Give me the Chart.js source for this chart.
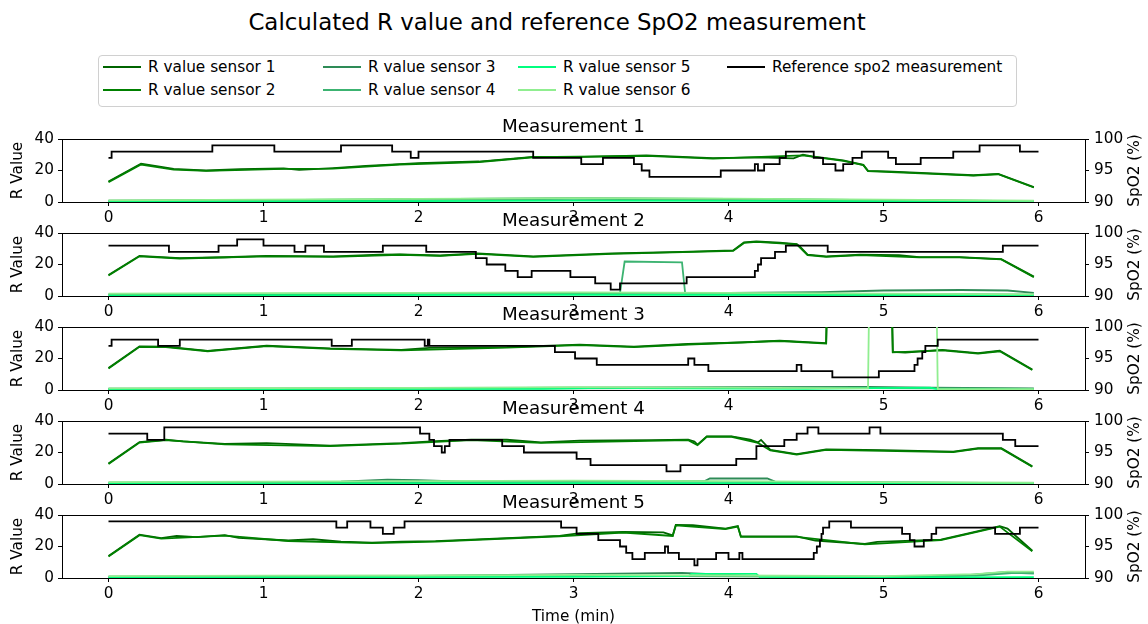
<!DOCTYPE html>
<html>
<head>
<meta charset="utf-8">
<script src="https://cdn.jsdelivr.net/npm/chart.js@4.4.0/dist/chart.umd.min.js"></script>
<style>
  body { margin: 0; background: #fff; }
  #fig { position: relative; width: 1148px; height: 624px; overflow: hidden; font-family: 'DejaVu Sans', sans-serif; color: #000; }
  #suptitle { position: absolute; left: 0; top: 8px; width: 1114px; text-align: center; font-size: 22.9px; line-height: 28px; }
  #legend { position: absolute; left: 98px; top: 55px; width: 917px; height: 50px; border: 1px solid #d0d0d0; border-radius: 4px; }
  .item { position: absolute; height: 20px; font-size: 15.3px; line-height: 20px; white-space: nowrap; padding-left: 45px; }
  .item i { position: absolute; left: 0; top: 9px; height: 2px; width: 38px; }
  canvas { position: absolute; left: 0; }
</style>
</head>
<body>
<div id="fig">
  <div id="suptitle">Calculated R value and reference SpO2 measurement</div>
  <div id="legend"></div>
</div>
<script>
// === Data: [time (min), value] ===
const timeTicks = [0, 1, 2, 3, 4, 5, 6];
const rTicks = [0, 20, 40];
const spo2Ticks = [90, 95, 100];

const sensorLabels = ['R value sensor 1', 'R value sensor 2', 'R value sensor 3', 'R value sensor 4', 'R value sensor 5', 'R value sensor 6'];
const sensorColors = ['#006400', '#008000', '#2e8b57', '#3cb371', '#00ff7f', '#90ee90'];
const refLabel = 'Reference spo2 measurement';

// Measurement 1
const m1Ref = [[0, 97], [0.02, 98], [0.67, 99], [1.07, 98], [1.5, 99], [1.83, 98], [1.95, 97], [2.0, 98], [2.74, 97], [3.05, 96], [3.19, 97], [3.39, 96], [3.44, 95], [3.49, 94], [3.95, 95], [4.17, 96], [4.19, 95], [4.23, 96], [4.33, 97], [4.37, 98], [4.55, 97], [4.61, 96], [4.69, 95], [4.74, 96], [4.8, 97], [4.86, 98], [5.03, 97], [5.08, 96], [5.24, 97], [5.45, 98], [5.62, 99], [5.88, 98], [6, 98]];
const m1R1 = [[0, 13], [0.21, 24.3], [0.33, 22.5], [0.42, 21], [0.55, 20.4], [0.63, 20], [0.85, 20.8], [1.13, 21.3], [1.23, 20.4], [1.45, 21.5], [1.66, 23], [1.88, 24], [2.0, 24.7], [2.39, 25.7], [2.74, 28.6], [3.0, 28.5], [3.47, 29.6], [3.9, 27.9], [4.2, 28.3], [4.42, 27.7], [4.48, 30], [4.54, 28.9], [4.74, 26.4], [4.87, 23.6], [4.9, 19.8], [5.02, 19.4], [5.28, 18.3], [5.58, 17], [5.74, 17.9], [5.97, 9.4]];
const m1R2 = [[0, 12.6], [0.21, 23.8], [0.42, 20.6], [0.63, 19.8], [1.13, 21], [1.45, 21.2], [1.88, 23.8], [2.39, 25.4], [2.74, 28.4], [3.47, 29.3], [3.9, 27.6], [4.48, 29.6], [4.74, 26.1], [4.87, 23.4], [4.9, 19.6], [5.28, 18], [5.58, 16.8], [5.74, 17.6], [5.97, 9.2]];
const m1R3 = [[0, 0.8], [1, 1.2], [2, 1.8], [3, 2.4], [4, 1.9], [5, 1.2], [5.97, 0.6]];
const m1R4 = [[0, 0.5], [1, 0.9], [2, 1.4], [3, 2], [4, 1.5], [5, 1], [5.97, 0.5]];
const m1R5 = [[0, 0.3], [2, 0.6], [3, 0.9], [4, 0.7], [5.97, 0.3]];
const m1R6 = [[0, 1], [1, 1.5], [2, 2], [3, 2.5], [4, 2.1], [5, 1.5], [5.97, 0.8]];

// Measurement 2
const m2Ref = [[0, 98], [0.39, 97], [0.71, 98], [0.83, 99], [1.0, 98], [1.2, 97], [1.27, 98], [1.39, 97], [1.77, 98], [2.05, 97], [2.37, 96], [2.44, 95], [2.56, 94], [2.64, 93], [2.73, 94], [2.98, 93], [3.14, 92], [3.24, 91], [3.3, 92], [3.73, 93], [4.17, 94], [4.19, 95], [4.21, 96], [4.3, 97], [4.37, 98], [4.64, 97], [5.77, 98], [6, 98]];
const m2R1 = [[0, 13.4], [0.2, 25.5], [0.46, 24], [0.75, 24.6], [1.02, 25.5], [1.45, 25.1], [1.75, 26.2], [1.88, 26.4], [2.14, 25.7], [2.38, 27], [2.74, 25.1], [3.25, 27], [3.7, 28], [4.03, 28.9], [4.1, 34], [4.18, 34.7], [4.33, 33.8], [4.44, 33], [4.46, 31.5], [4.51, 26.2], [4.63, 25.1], [4.85, 26.2], [5.1, 26], [5.23, 24.7], [5.49, 24.7], [5.76, 23.4], [5.97, 12.3]];
const m2R2 = [[0, 13], [0.2, 25.2], [0.46, 23.8], [1.02, 25.2], [1.45, 24.9], [1.88, 26.2], [2.14, 25.5], [2.38, 26.8], [2.74, 24.9], [3.25, 26.8], [4.03, 28.6], [4.1, 33.7], [4.18, 34.4], [4.44, 32.8], [4.51, 26], [4.63, 24.9], [4.85, 26], [5.23, 24.5], [5.49, 24.5], [5.76, 23.2], [5.97, 12]];
const m2R3 = [[0, 1], [1, 1.2], [2, 1.5], [3, 2], [4, 2], [4.6, 2.5], [5, 3.5], [5.5, 3.8], [5.8, 3.5], [5.97, 2]];
const m2R4 = [[0, 0.8], [1, 1], [2, 1.3], [3, 1.6], [3.3, 1.8], [3.33, 21.9], [3.7, 21.3], [3.72, 2], [4.5, 0.8], [5.5, 1.2], [5.97, 0.8]];
const m2R5 = [[0, 0.3], [3, 0.8], [5.97, 0.5]];
const m2R6 = [[0, 1.5], [1, 1.8], [2, 2], [3, 2.3], [4, 2], [5, 1.5], [5.97, 1]];

// Measurement 3
const m3Ref = [[0, 97], [0.02, 98], [0.32, 97], [0.46, 98], [1.44, 97], [1.57, 98], [2.04, 97], [2.06, 98], [2.07, 97], [2.88, 96], [3.01, 95], [3.15, 94], [3.74, 95], [3.78, 94], [3.87, 93], [4.44, 94], [4.47, 93], [4.67, 92], [4.97, 93], [5.2, 94], [5.22, 95], [5.25, 96], [5.27, 97], [5.35, 98], [6, 98]];
const m3R1 = [[0, 14], [0.2, 27.7], [0.37, 27.5], [0.64, 24.9], [1.02, 28.1], [1.43, 26.4], [1.89, 25.5], [2.07, 26.8], [2.57, 27.2], [3.04, 28.8], [3.39, 27.5], [3.74, 29.2], [4.09, 30.3], [4.33, 31.4], [4.63, 29.8], [4.65, 120], [5.04, 120], [5.06, 24.2], [5.14, 23.8], [5.38, 25.5], [5.61, 23.4], [5.75, 24.9], [5.96, 13]];
const m3R2 = [[0, 13.7], [0.2, 27.4], [0.37, 27.2], [0.64, 24.6], [1.02, 27.8], [1.43, 26.1], [1.89, 25.2], [2.57, 26.9], [3.04, 28.5], [3.39, 27.2], [3.74, 28.9], [4.33, 31.1], [4.63, 29.5], [4.65, 120], [5.04, 120], [5.06, 23.9], [5.38, 25.2], [5.61, 23.1], [5.75, 24.6], [5.96, 12.7]];
const m3R3 = [[0, 0.8], [2, 1], [3, 1.5], [4, 1.8], [4.9, 2], [5.3, 1.5], [5.97, 1]];
const m3R4 = [[0, 0.5], [3, 1], [4.5, 1.3], [5.97, 0.7]];
const m3R5 = [[0, 0.5], [2.8, 0.8], [3.2, 1.3], [3.6, 1], [4.5, 0.8], [4.95, 1.2], [5.3, 1.5], [5.35, 0.5], [5.97, 0.3]];
const m3R6 = [[0, 1], [2, 1.3], [3, 1.8], [4, 1.5], [4.9, 1], [4.92, 150], [5.33, 150], [5.35, 0.5], [5.97, 0.5]];

// Measurement 4
const m4Ref = [[0, 98], [0.25, 97], [0.36, 99], [2.01, 98], [2.07, 97], [2.1, 96], [2.15, 95], [2.17, 96], [2.2, 97], [2.54, 96], [2.68, 95], [3.02, 94], [3.11, 93], [3.6, 92], [3.69, 93], [4.05, 94], [4.18, 96], [4.36, 97], [4.44, 98], [4.51, 99], [4.58, 98], [4.91, 99], [4.98, 98], [5.77, 97], [5.85, 96], [6, 96]];
const m4R1 = [[0, 13], [0.2, 26.6], [0.37, 28.1], [0.48, 27], [0.75, 25.5], [1.02, 25.9], [1.43, 24.4], [1.89, 25.9], [2.11, 27.2], [2.34, 28.1], [2.57, 28.1], [2.79, 26.4], [3.04, 27.5], [3.5, 27.8], [3.74, 28.1], [3.78, 27], [3.8, 25], [3.86, 30.3], [4.02, 30.3], [4.14, 28.1], [4.19, 26.4], [4.21, 28], [4.27, 21.6], [4.44, 19], [4.63, 22], [5.0, 21.5], [5.45, 20.5], [5.61, 22.7], [5.76, 22.7], [5.96, 11.2]];
const m4R2 = [[0, 12.7], [0.2, 26.3], [0.37, 27.8], [0.75, 25.2], [1.43, 24.1], [1.89, 25.6], [2.34, 27.8], [2.79, 26.1], [3.74, 27.8], [3.8, 24.7], [3.86, 30], [4.02, 30], [4.19, 26.1], [4.27, 21.3], [4.44, 18.7], [4.63, 21.7], [5.45, 20.2], [5.61, 22.4], [5.76, 22.4], [5.96, 11]];
const m4R3 = [[0, 0.8], [1, 1], [1.5, 1.5], [1.8, 2.8], [2.0, 2.5], [2.3, 1.5], [3, 1.6], [3.85, 2], [3.88, 3.5], [4.25, 3.5], [4.3, 1.5], [5, 1], [5.97, 0.6]];
const m4R4 = [[0, 0.5], [2, 1], [3, 1.5], [4, 1.3], [5, 0.8], [5.97, 0.5]];
const m4R5 = [[0, 0.3], [3, 0.5], [5.97, 0.3]];
const m4R6 = [[0, 1.2], [1, 1.5], [2, 1.8], [3, 2.1], [4, 1.8], [5, 1.2], [5.97, 0.8]];

// Measurement 5
const m5Ref = [[0, 99], [1.47, 98], [1.54, 99], [1.69, 98], [1.77, 97], [1.84, 98], [1.91, 99], [2.92, 98], [3.02, 97], [3.16, 96], [3.3, 95], [3.34, 94], [3.38, 93], [3.46, 94], [3.59, 95], [3.61, 94], [3.68, 93], [3.78, 92], [3.8, 93], [3.92, 94], [4.0, 93], [4.07, 94], [4.09, 93], [4.55, 94], [4.57, 95], [4.59, 96], [4.6, 97], [4.61, 98], [4.65, 99], [4.79, 98], [5.12, 97], [5.17, 96], [5.2, 95], [5.26, 96], [5.31, 97], [5.34, 98], [5.72, 97], [5.88, 98], [6, 98]];
const m5R1 = [[0, 14], [0.2, 27.5], [0.34, 25.3], [0.44, 26.8], [0.57, 25.9], [0.75, 27.2], [0.84, 25.5], [1.16, 23.8], [1.32, 24.6], [1.5, 23.1], [1.7, 22.5], [1.89, 23.1], [2.11, 23.4], [2.57, 25.3], [2.91, 26.8], [3.04, 28.5], [3.32, 29.2], [3.58, 29], [3.64, 27], [3.66, 33.7], [3.77, 33.5], [3.98, 31.4], [4.06, 33], [4.08, 26.4], [4.44, 26.4], [4.56, 23.8], [4.88, 21.6], [4.96, 22.9], [5.37, 24.4], [5.54, 28.1], [5.75, 32.9], [5.8, 31.4], [5.96, 17.3]];
const m5R2 = [[0, 13.7], [0.2, 27.2], [0.34, 25], [0.75, 26.9], [1.16, 23.5], [1.7, 22.2], [2.11, 23.1], [2.91, 26.5], [3.32, 28.9], [3.64, 26.7], [3.66, 33.4], [3.98, 31.1], [4.06, 32.7], [4.08, 26.1], [4.44, 26.1], [4.88, 21.3], [5.37, 24.1], [5.54, 27.8], [5.75, 32.6], [5.96, 17]];
const m5R3 = [[0, 0.8], [1, 1], [2, 1.3], [3, 2.5], [3.7, 3.2], [4.2, 1.2], [5, 0.8], [5.5, 1.5], [5.8, 3.8], [5.97, 3.3]];
const m5R4 = [[0, 0.5], [2, 1], [3, 1.5], [4, 1], [5, 0.6], [5.6, 1.5], [5.85, 3.2], [5.97, 2.8]];
const m5R5 = [[0, 0.3], [3, 0.8], [3.74, 1.2], [3.76, 2.6], [4.18, 2.6], [4.2, 0.8], [5, 0.4], [5.97, 0.5]];
const m5R6 = [[0, 1.2], [1, 1.5], [2, 1.6], [3, 2], [4, 1.6], [5, 1.2], [5.6, 2.5], [5.8, 4], [5.97, 4]];

const measurements = [
    { title: 'Measurement 1', ref: m1Ref, r: [m1R1, m1R2, m1R3, m1R4, m1R5, m1R6] },
    { title: 'Measurement 2', ref: m2Ref, r: [m2R1, m2R2, m2R3, m2R4, m2R5, m2R6] },
    { title: 'Measurement 3', ref: m3Ref, r: [m3R1, m3R2, m3R3, m3R4, m3R5, m3R6] },
    { title: 'Measurement 4', ref: m4Ref, r: [m4R1, m4R2, m4R3, m4R4, m4R5, m4R6] },
    { title: 'Measurement 5', ref: m5Ref, r: [m5R1, m5R2, m5R3, m5R4, m5R5, m5R6] }
];

// === Layout (px) ===
const FIG_W = 1148;
const PLOT_TOP = 139;
const PLOT_STEP = 94;
const PLOT_H = 63;
const PAD_TOP = 30;
const X_AXIS_H = 48;
const LEFT_W = 62;
const RIGHT_W = 63;
const FONT = 'DejaVu Sans';

Chart.defaults.font.family = FONT;
Chart.defaults.font.size = 15.3;
Chart.defaults.color = '#000';

// === Legend (4 columns, column-major) ===
const legend = document.getElementById('legend');
const legendCols = [4, 224, 419, 628];
const legendRows = [1, 24];
const legendItems = sensorLabels.map((l, k) => ({ label: l, color: sensorColors[k] }))
    .concat([{ label: refLabel, color: '#000' }]);
legendItems.forEach((it, k) => {
    const el = document.createElement('div');
    el.className = 'item';
    el.style.left = legendCols[Math.floor(k / 2)] + 'px';
    el.style.top = legendRows[k % 2] + 'px';
    el.innerHTML = `<i style="background:${it.color}"></i>${it.label}`;
    legend.appendChild(el);
});

// frame, white face, subplot title and right-hand axis label
const axesDecor = {
    id: 'axesDecor',
    beforeDraw(chart) {
        const { ctx, chartArea: a } = chart;
        ctx.save();
        ctx.fillStyle = '#fff';
        ctx.fillRect(a.left, a.top, a.right - a.left, a.bottom - a.top);
        ctx.restore();
    },
    beforeDatasetsDraw(chart) {
        const { ctx, chartArea: a } = chart;
        ctx.save();
        ctx.strokeStyle = '#000';
        ctx.lineWidth = 1;
        ctx.strokeRect(a.left + 0.5, a.top + 0.5, a.right - a.left, a.bottom - a.top);
        ctx.restore();
    },
    afterDraw(chart, args, opts) {
        const { ctx, chartArea: a } = chart;
        ctx.save();
        ctx.fillStyle = '#000';
        ctx.font = `18.3px "${FONT}"`;
        ctx.textAlign = 'center';
        ctx.textBaseline = 'alphabetic';
        ctx.fillText(opts.title, (a.left + a.right) / 2, a.top - 7);

        ctx.font = `15.3px "${FONT}"`;
        ctx.textBaseline = 'middle';
        ctx.translate(FIG_W - 13, (a.top + a.bottom) / 2);
        ctx.rotate(-Math.PI / 2);
        ctx.fillText('SpO2 (%)', 0, 0);
        ctx.restore();
    }
};

const fig = document.getElementById('fig');

measurements.forEach((m, i) => {
    const canvas = document.createElement('canvas');
    canvas.width = FIG_W;
    canvas.height = PAD_TOP + PLOT_H + X_AXIS_H;
    canvas.style.top = (PLOT_TOP + i * PLOT_STEP - PAD_TOP) + 'px';
    canvas.style.zIndex = i + 1;
    fig.appendChild(canvas);

    const datasets = [{
        label: refLabel,
        data: m.ref,
        yAxisID: 'y2',
        borderColor: '#000',
        stepped: true,
        order: 0
    }].concat(m.r.map((d, k) => ({
        label: sensorLabels[k],
        data: d,
        yAxisID: 'y',
        borderColor: sensorColors[k],
        order: 6 - k
    })));

    new Chart(canvas.getContext('2d'), {
        type: 'line',
        data: { datasets },
        options: {
            responsive: false,
            animation: false,
            events: [],
            layout: { padding: { top: PAD_TOP, left: 0, right: 0, bottom: 0 } },
            elements: {
                line: { borderWidth: 1.8, tension: 0 },
                point: { radius: 0 }
            },
            plugins: {
                legend: { display: false },
                tooltip: { enabled: false },
                axesDecor: { title: m.title }
            },
            scales: {
                x: {
                    type: 'linear',
                    min: -0.3,
                    max: 6.3,
                    afterBuildTicks: s => { s.ticks = timeTicks.map(v => ({ value: v })); },
                    afterFit: s => { s.height = X_AXIS_H; },
                    ticks: { padding: 3, maxRotation: 0, callback: v => String(v) },
                    grid: { drawOnChartArea: false, tickLength: 4, tickColor: '#000' },
                    border: { display: false },
                    title: { display: true, text: 'Time (min)', padding: { top: 0, bottom: 0 } }
                },
                y: {
                    position: 'left',
                    min: 0,
                    max: 40,
                    afterBuildTicks: s => { s.ticks = rTicks.map(v => ({ value: v })); },
                    afterFit: s => { s.width = LEFT_W; },
                    ticks: { padding: 4 },
                    grid: { drawOnChartArea: false, tickLength: 4, tickColor: '#000' },
                    border: { display: false },
                    title: { display: true, text: 'R Value', padding: { top: 9, bottom: 0 } }
                },
                y2: {
                    position: 'right',
                    min: 90,
                    max: 100,
                    afterBuildTicks: s => { s.ticks = spo2Ticks.map(v => ({ value: v })); },
                    afterFit: s => { s.width = RIGHT_W; },
                    ticks: { padding: 5 },
                    grid: { drawOnChartArea: false, tickLength: 4, tickColor: '#000' },
                    border: { display: false }
                }
            }
        },
        plugins: [axesDecor]
    });
});
</script>
</body>
</html>
